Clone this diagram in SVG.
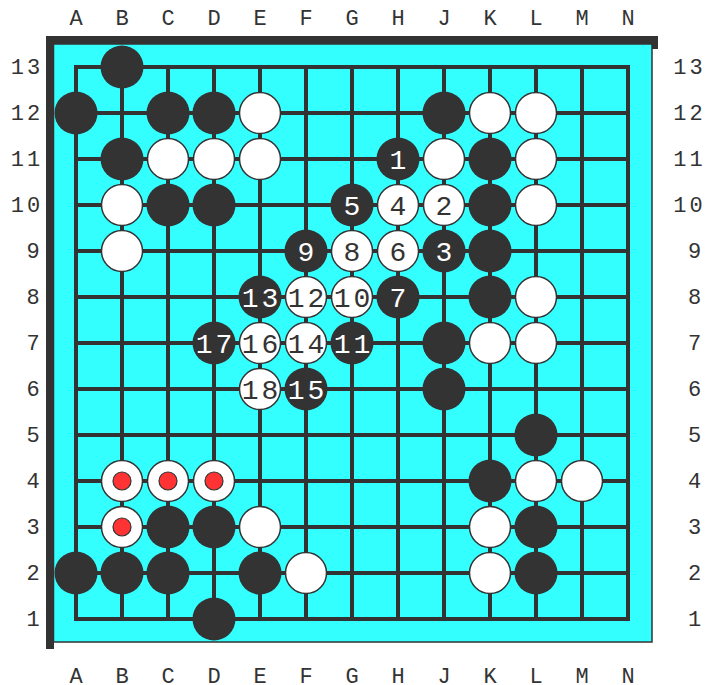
<svg xmlns="http://www.w3.org/2000/svg" width="705" height="685" viewBox="0 0 705 685">
<style>
.coord{font-family:"Liberation Mono","DejaVu Sans Mono",monospace;font-size:22px;fill:#333;text-anchor:middle}
.c2{letter-spacing:3px}
.b{fill:#333}
.w{fill:#fff;stroke:#333;stroke-width:1.5}
.mk{fill:#f33;stroke:#333;stroke-width:1.2}
.nb{font-family:"Liberation Mono","DejaVu Sans Mono",monospace;font-size:28px;fill:#fff;text-anchor:middle}
.nw{font-family:"Liberation Mono","DejaVu Sans Mono",monospace;font-size:28px;fill:#333;text-anchor:middle}
.n2{letter-spacing:3px}
.grid{stroke:#333;stroke-width:4;fill:none;stroke-linecap:square}
</style>
<rect width="705" height="685" fill="#fff"/>
<g id="board">
<rect x="46" y="36" width="612" height="13" fill="#333"/>
<rect x="46" y="36" width="8" height="613" fill="#333"/>
<rect x="53.5" y="44" width="598.5" height="598" fill="#33ffff" stroke="#333" stroke-width="1.5"/>
</g>
<g id="coords">
<g id="top-labels">
<text class="coord" x="76" y="25">A</text><text class="coord" x="122" y="25">B</text><text class="coord" x="168" y="25">C</text><text class="coord" x="214" y="25">D</text><text class="coord" x="260" y="25">E</text><text class="coord" x="306" y="25">F</text><text class="coord" x="352" y="25">G</text><text class="coord" x="398" y="25">H</text><text class="coord" x="444" y="25">J</text><text class="coord" x="490" y="25">K</text><text class="coord" x="536" y="25">L</text><text class="coord" x="582" y="25">M</text><text class="coord" x="628" y="25">N</text>
</g>
<g id="bottom-labels">
<text class="coord" x="76" y="683">A</text><text class="coord" x="122" y="683">B</text><text class="coord" x="168" y="683">C</text><text class="coord" x="214" y="683">D</text><text class="coord" x="260" y="683">E</text><text class="coord" x="306" y="683">F</text><text class="coord" x="352" y="683">G</text><text class="coord" x="398" y="683">H</text><text class="coord" x="444" y="683">J</text><text class="coord" x="490" y="683">K</text><text class="coord" x="536" y="683">L</text><text class="coord" x="582" y="683">M</text><text class="coord" x="628" y="683">N</text>
</g>
<g id="left-labels">
<text class="coord c2" x="27" y="74">13</text><text class="coord c2" x="27" y="120">12</text><text class="coord c2" x="27" y="166">11</text><text class="coord c2" x="27" y="212">10</text><text class="coord" x="33" y="258">9</text><text class="coord" x="33" y="304">8</text><text class="coord" x="33" y="350">7</text><text class="coord" x="33" y="396">6</text><text class="coord" x="33" y="442">5</text><text class="coord" x="33" y="488">4</text><text class="coord" x="33" y="534">3</text><text class="coord" x="33" y="580">2</text><text class="coord" x="33" y="626">1</text>
</g>
<g id="right-labels">
<text class="coord c2" x="689.5" y="74">13</text><text class="coord c2" x="689.5" y="120">12</text><text class="coord c2" x="689.5" y="166">11</text><text class="coord c2" x="689.5" y="212">10</text><text class="coord" x="694.5" y="258">9</text><text class="coord" x="694.5" y="304">8</text><text class="coord" x="694.5" y="350">7</text><text class="coord" x="694.5" y="396">6</text><text class="coord" x="694.5" y="442">5</text><text class="coord" x="694.5" y="488">4</text><text class="coord" x="694.5" y="534">3</text><text class="coord" x="694.5" y="580">2</text><text class="coord" x="694.5" y="626">1</text>
</g>
</g>
<g id="connectors">
<path class="grid" d="M76 67H628V619H76Z M76 113H628 M76 159H628 M76 205H628 M76 251H628 M76 297H628 M76 343H628 M76 389H628 M76 435H628 M76 481H628 M76 527H628 M76 573H628 M122 67V619 M168 67V619 M214 67V619 M260 67V619 M306 67V619 M352 67V619 M398 67V619 M444 67V619 M490 67V619 M536 67V619 M582 67V619"/>
</g>
<g id="stones">
<g id="B13"><circle class="b" cx="122" cy="67" r="21.5"/></g>
<g id="A12"><circle class="b" cx="76" cy="113" r="21.5"/></g>
<g id="C12"><circle class="b" cx="168" cy="113" r="21.5"/></g>
<g id="D12"><circle class="b" cx="214" cy="113" r="21.5"/></g>
<g id="E12"><circle class="w" cx="260" cy="113" r="20.5"/></g>
<g id="J12"><circle class="b" cx="444" cy="113" r="21.5"/></g>
<g id="K12"><circle class="w" cx="490" cy="113" r="20.5"/></g>
<g id="L12"><circle class="w" cx="536" cy="113" r="20.5"/></g>
<g id="B11"><circle class="b" cx="122" cy="159" r="21.5"/></g>
<g id="C11"><circle class="w" cx="168" cy="159" r="20.5"/></g>
<g id="D11"><circle class="w" cx="214" cy="159" r="20.5"/></g>
<g id="E11"><circle class="w" cx="260" cy="159" r="20.5"/></g>
<g id="H11"><circle class="b" cx="398" cy="159" r="21.5"/><text class="nb" x="398" y="168.5">1</text></g>
<g id="J11"><circle class="w" cx="444" cy="159" r="20.5"/></g>
<g id="K11"><circle class="b" cx="490" cy="159" r="21.5"/></g>
<g id="L11"><circle class="w" cx="536" cy="159" r="20.5"/></g>
<g id="B10"><circle class="w" cx="122" cy="205" r="20.5"/></g>
<g id="C10"><circle class="b" cx="168" cy="205" r="21.5"/></g>
<g id="D10"><circle class="b" cx="214" cy="205" r="21.5"/></g>
<g id="G10"><circle class="b" cx="352" cy="205" r="21.5"/><text class="nb" x="352" y="214.5">5</text></g>
<g id="H10"><circle class="w" cx="398" cy="205" r="20.5"/><text class="nw" x="398" y="214.5">4</text></g>
<g id="J10"><circle class="w" cx="444" cy="205" r="20.5"/><text class="nw" x="444" y="214.5">2</text></g>
<g id="K10"><circle class="b" cx="490" cy="205" r="21.5"/></g>
<g id="L10"><circle class="w" cx="536" cy="205" r="20.5"/></g>
<g id="B9"><circle class="w" cx="122" cy="251" r="20.5"/></g>
<g id="F9"><circle class="b" cx="306" cy="251" r="21.5"/><text class="nb" x="306" y="260.5">9</text></g>
<g id="G9"><circle class="w" cx="352" cy="251" r="20.5"/><text class="nw" x="352" y="260.5">8</text></g>
<g id="H9"><circle class="w" cx="398" cy="251" r="20.5"/><text class="nw" x="398" y="260.5">6</text></g>
<g id="J9"><circle class="b" cx="444" cy="251" r="21.5"/><text class="nb" x="444" y="260.5">3</text></g>
<g id="K9"><circle class="b" cx="490" cy="251" r="21.5"/></g>
<g id="E8"><circle class="b" cx="260" cy="297" r="21.5"/><text class="nb n2" x="261.5" y="306.5">13</text></g>
<g id="F8"><circle class="w" cx="306" cy="297" r="20.5"/><text class="nw n2" x="307.5" y="306.5">12</text></g>
<g id="G8"><circle class="w" cx="352" cy="297" r="20.5"/><text class="nw n2" x="353.5" y="306.5">10</text></g>
<g id="H8"><circle class="b" cx="398" cy="297" r="21.5"/><text class="nb" x="398" y="306.5">7</text></g>
<g id="K8"><circle class="b" cx="490" cy="297" r="21.5"/></g>
<g id="L8"><circle class="w" cx="536" cy="297" r="20.5"/></g>
<g id="D7"><circle class="b" cx="214" cy="343" r="21.5"/><text class="nb n2" x="215.5" y="352.5">17</text></g>
<g id="E7"><circle class="w" cx="260" cy="343" r="20.5"/><text class="nw n2" x="261.5" y="352.5">16</text></g>
<g id="F7"><circle class="w" cx="306" cy="343" r="20.5"/><text class="nw n2" x="307.5" y="352.5">14</text></g>
<g id="G7"><circle class="b" cx="352" cy="343" r="21.5"/><text class="nb n2" x="353.5" y="352.5">11</text></g>
<g id="J7"><circle class="b" cx="444" cy="343" r="21.5"/></g>
<g id="K7"><circle class="w" cx="490" cy="343" r="20.5"/></g>
<g id="L7"><circle class="w" cx="536" cy="343" r="20.5"/></g>
<g id="E6"><circle class="w" cx="260" cy="389" r="20.5"/><text class="nw n2" x="261.5" y="398.5">18</text></g>
<g id="F6"><circle class="b" cx="306" cy="389" r="21.5"/><text class="nb n2" x="307.5" y="398.5">15</text></g>
<g id="J6"><circle class="b" cx="444" cy="389" r="21.5"/></g>
<g id="L5"><circle class="b" cx="536" cy="435" r="21.5"/></g>
<g id="B4"><circle class="w" cx="122" cy="481" r="20.5"/><circle class="mk" cx="122" cy="481" r="9"/></g>
<g id="C4"><circle class="w" cx="168" cy="481" r="20.5"/><circle class="mk" cx="168" cy="481" r="9"/></g>
<g id="D4"><circle class="w" cx="214" cy="481" r="20.5"/><circle class="mk" cx="214" cy="481" r="9"/></g>
<g id="K4"><circle class="b" cx="490" cy="481" r="21.5"/></g>
<g id="L4"><circle class="w" cx="536" cy="481" r="20.5"/></g>
<g id="M4"><circle class="w" cx="582" cy="481" r="20.5"/></g>
<g id="B3"><circle class="w" cx="122" cy="527" r="20.5"/><circle class="mk" cx="122" cy="527" r="9"/></g>
<g id="C3"><circle class="b" cx="168" cy="527" r="21.5"/></g>
<g id="D3"><circle class="b" cx="214" cy="527" r="21.5"/></g>
<g id="E3"><circle class="w" cx="260" cy="527" r="20.5"/></g>
<g id="K3"><circle class="w" cx="490" cy="527" r="20.5"/></g>
<g id="L3"><circle class="b" cx="536" cy="527" r="21.5"/></g>
<g id="A2"><circle class="b" cx="76" cy="573" r="21.5"/></g>
<g id="B2"><circle class="b" cx="122" cy="573" r="21.5"/></g>
<g id="C2"><circle class="b" cx="168" cy="573" r="21.5"/></g>
<g id="E2"><circle class="b" cx="260" cy="573" r="21.5"/></g>
<g id="F2"><circle class="w" cx="306" cy="573" r="20.5"/></g>
<g id="K2"><circle class="w" cx="490" cy="573" r="20.5"/></g>
<g id="L2"><circle class="b" cx="536" cy="573" r="21.5"/></g>
<g id="D1"><circle class="b" cx="214" cy="619" r="21.5"/></g>
</g>
</svg>
